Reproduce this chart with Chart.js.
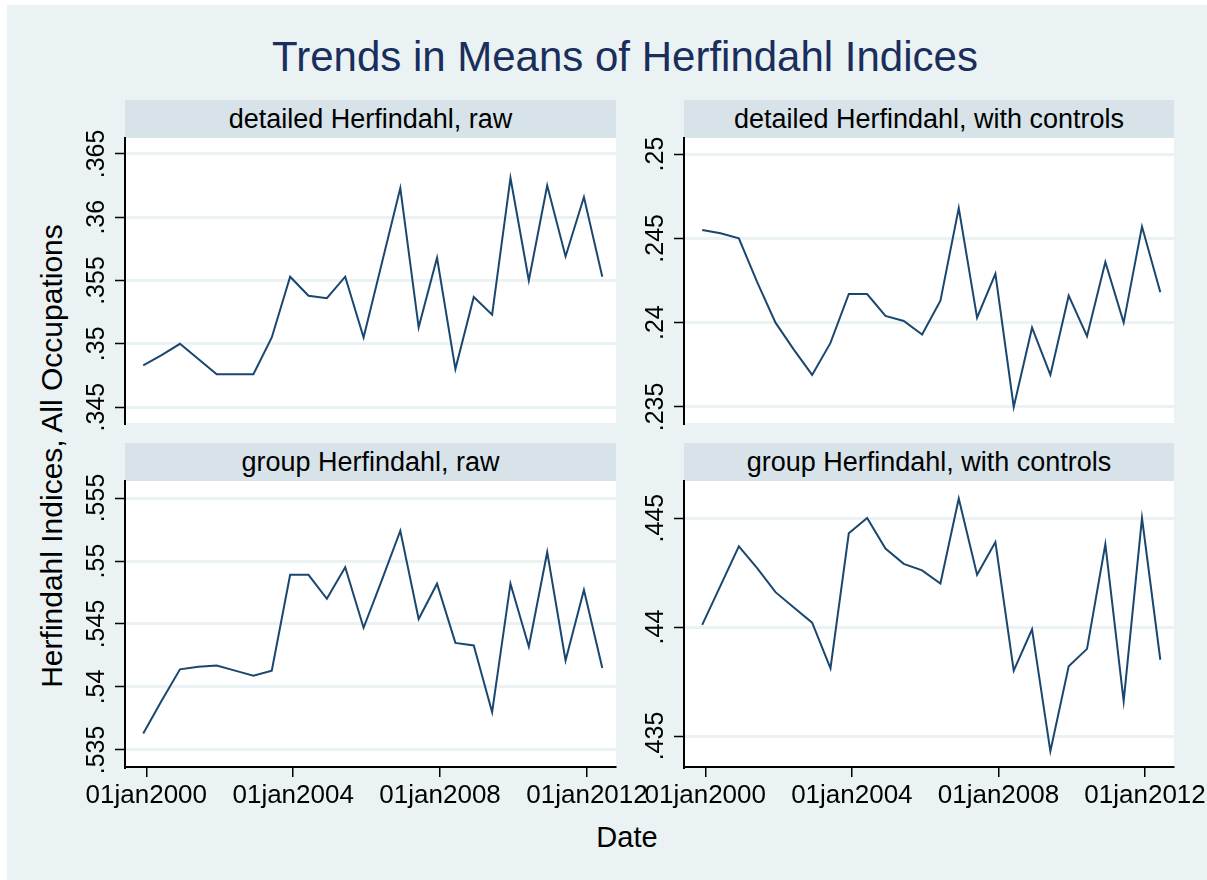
<!DOCTYPE html>
<html>
<head>
<meta charset="utf-8">
<title>Trends in Means of Herfindahl Indices</title>
<script src="https://cdn.jsdelivr.net/npm/chart.js@4.4.1/dist/chart.umd.min.js"></script>
<style>
  html, body { margin: 0; padding: 0; background: #fff; overflow: hidden; }
  body { width: 1207px; height: 880px; position: relative; font-family: 'Liberation Sans', Arial, sans-serif; }
  #bg { position: absolute; left: 7px; top: 5px; right: 0; bottom: 0; background: #eaf2f3; }
  canvas { position: absolute; }
  .strip { position: absolute; height: 38px; background: #d7e3e8; color: #000; font-size: 27px;
           line-height: 38px; text-align: center; white-space: nowrap; }
  #title { position: absolute; left: 0; width: 1250px; top: 36px; font-size: 42px; line-height: 42px;
           text-align: center; color: #1a2e5c; white-space: nowrap; }
  #ytitle { position: absolute; left: -248px; top: 441px; width: 600px; font-size: 30px; line-height: 30px;
            text-align: center; transform: rotate(-90deg); white-space: nowrap; color: #000; }
  #xtitle { position: absolute; left: 527px; width: 200px; top: 823px; font-size: 29px; line-height: 29px;
            text-align: center; color: #000; }
</style>
</head>
<body>
<div id="bg"></div>
<div id="title">Trends in Means of Herfindahl Indices</div>
<div id="ytitle">Herfindahl Indices, All Occupations</div>
<div id="xtitle">Date</div>
<script>
// half-yearly observations
var periods = ['1999-12', '2000-06', '2000-12', '2001-06', '2001-12', '2002-06', '2002-12',
               '2003-06', '2003-12', '2004-06', '2004-12', '2005-06', '2005-12', '2006-06',
               '2006-12', '2007-06', '2007-12', '2008-06', '2008-12', '2009-06', '2009-12',
               '2010-06', '2010-12', '2011-06', '2011-12', '2012-06'];
var yearTicks = [2000, 2004, 2008, 2012];

var detailedRaw = [.3483, .3491, .3500, .3488, .3476, .3476, .3476, .3505, .3553, .3538, .3536, .3553, .3505,
                   .3564, .3623, .3513, .3568, .3480, .3537, .3523, .3631, .3550, .3625, .3569, .3616, .3553];
var detailedCtrl = [.2455, .2453, .2450, .2424, .2400, .2384, .2369, .2388, .2417, .2417, .2404, .2401, .2393,
                    .2413, .2468, .2403, .2429, .2350, .2397, .2369, .2416, .2392, .2436, .2400, .2457, .2418];
var groupRaw = [.5363, .5389, .5414, .5416, .5417, .5413, .5409, .5413, .5489, .5489, .5470, .5495, .5447,
                .5485, .5524, .5454, .5482, .5435, .5433, .5380, .5482, .5432, .5507, .5421, .5477, .5415];
var groupCtrl = [.4401, .4419, .4437, .4427, .4416, .4409, .4402, .4381, .4443, .4450, .4436, .4429, .4426,
                 .4420, .4459, .4424, .4439, .4380, .4399, .4343, .4382, .4390, .4438, .4366, .4450, .4385];

var ticksDetailedRaw = [.345, .35, .355, .36, .365];
var ticksDetailedCtrl = [.235, .24, .245, .25];
var ticksGroupRaw = [.535, .54, .545, .55, .555];
var ticksGroupCtrl = [.435, .44, .445];

var FONT = "'Liberation Sans', Arial, sans-serif";

function toYear(p) {
    var parts = p.split('-');
    return +parts[0] + (+parts[1] - 1) / 12;
}
function fmt(v) {
    return String(+v.toFixed(3)).replace(/^0\./, '.');
}

// white plot region
var plotBg = {
    id: 'plotBg',
    beforeDraw: function (chart) {
        var a = chart.chartArea, ctx = chart.ctx;
        ctx.save();
        ctx.fillStyle = '#fff';
        ctx.fillRect(a.left, a.top, a.right - a.left, a.bottom - a.top);
        ctx.restore();
    }
};

var panels = [
    { title: 'detailed Herfindahl, raw', values: detailedRaw, ticks: ticksDetailedRaw,
      min: .34374, max: .36626, left: 125, top: 138, w: 491, h: 285, showX: false },
    { title: 'detailed Herfindahl, with controls', values: detailedCtrl, ticks: ticksDetailedCtrl,
      min: .23405, max: .25095, left: 684, top: 138, w: 490, h: 285, showX: false },
    { title: 'group Herfindahl, raw', values: groupRaw, ticks: ticksGroupRaw,
      min: .53365, max: .55635, left: 125, top: 481, w: 491, h: 286, showX: true },
    { title: 'group Herfindahl, with controls', values: groupCtrl, ticks: ticksGroupCtrl,
      min: .43358, max: .4467, left: 684, top: 481, w: 490, h: 286, showX: true }
];

var WY = 60, PT = 20, PB = 20, HX = 50, PR = 44;

panels.forEach(function (p) {
    var strip = document.createElement('div');
    strip.className = 'strip';
    strip.textContent = p.title;
    strip.style.left = p.left + 'px';
    strip.style.top = (p.top - 38) + 'px';
    strip.style.width = p.w + 'px';
    document.body.appendChild(strip);

    var cw = WY + p.w + PR, ch = PT + p.h + (p.showX ? HX : PB);
    var cv = document.createElement('canvas');
    cv.width = cw; cv.height = ch;
    cv.style.width = cw + 'px'; cv.style.height = ch + 'px';
    cv.style.left = (p.left - WY) + 'px';
    cv.style.top = (p.top - PT) + 'px';
    document.body.appendChild(cv);

    new Chart(cv.getContext('2d'), {
        type: 'line',
        data: {
            datasets: [{
                data: periods.map(function (d, i) { return { x: toYear(d), y: p.values[i] }; }),
                borderColor: '#1a476f',
                borderWidth: 2,
                pointRadius: 0,
                tension: 0,
                fill: false
            }]
        },
        options: {
            responsive: false,
            animation: false,
            devicePixelRatio: 1,
            layout: { padding: { left: 0, top: PT, right: PR, bottom: p.showX ? 0 : PB } },
            plugins: { legend: { display: false }, tooltip: { enabled: false } },
            scales: {
                x: {
                    type: 'linear',
                    display: p.showX,
                    min: 1999.42,
                    max: 2012.79,
                    afterBuildTicks: function (s) { s.ticks = yearTicks.map(function (v) { return { value: v }; }); },
                    afterFit: function (s) { s.height = p.showX ? HX : 0; },
                    grid: { drawOnChartArea: false, color: '#000', lineWidth: 1.5, tickLength: 10 },
                    border: { color: '#000', width: 2 },
                    ticks: {
                        autoSkip: false, maxRotation: 0, padding: 3, color: '#000',
                        font: { family: FONT, size: 26 },
                        callback: function (v) { return '01jan' + v; }
                    }
                },
                y: {
                    min: p.min,
                    max: p.max,
                    afterBuildTicks: function (s) { s.ticks = p.ticks.map(function (v) { return { value: v }; }); },
                    afterFit: function (s) { s.width = WY; },
                    grid: { color: '#eaf2f3', lineWidth: 3, tickColor: '#000', tickWidth: 1.5, tickLength: 10 },
                    border: { color: '#000', width: 2 },
                    ticks: {
                        autoSkip: false, minRotation: 90, maxRotation: 90, crossAlign: 'center',
                        padding: -6, color: '#000',
                        font: { family: FONT, size: 25 },
                        callback: function (v) { return fmt(v); }
                    }
                }
            }
        },
        plugins: [plotBg]
    });
});
</script>
</body>
</html>
